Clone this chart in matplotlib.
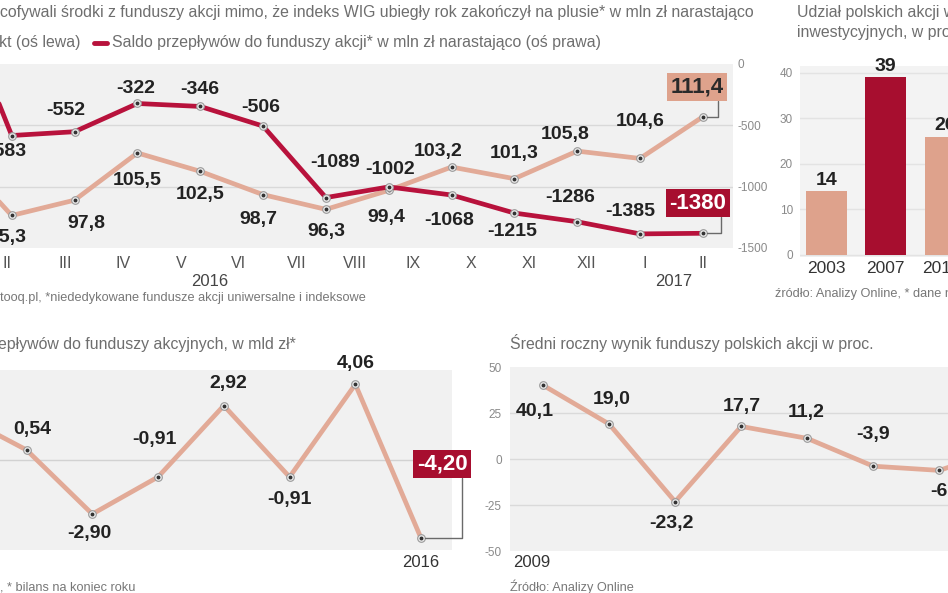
import numpy as np
import matplotlib
matplotlib.use("Agg")
import matplotlib.pyplot as plt
from matplotlib.lines import Line2D

plt.rcParams['font.family'] = ['Liberation Sans', 'DejaVu Sans']
plt.rcParams['axes.unicode_minus'] = False

# --- dane -------------------------------------------------------------
# wykres 1: I 2016 - II 2017 (pierwszy punkt poza kadrem)
months = ['I', 'II', 'III', 'IV', 'V', 'VI', 'VII', 'VIII', 'IX', 'X', 'XI', 'XII', 'I', 'II']
wig = [106.5, 95.3, 97.8, 105.5, 102.5, 98.7, 96.3, 99.4, 103.2, 101.3, 105.8, 104.6, 111.4]
saldo = [700, -583, -552, -322, -346, -506, -1089, -1002, -1068, -1215, -1286, -1385, -1380]

# wykres 2: udział polskich akcji
years_b = ['2003', '2007', '2017*']
share = [14, 39, 26]

# wykres 3: saldo roczne, mld zł (2009-2016)
saldo_rok = [2.4, 0.54, -2.90, -0.91, 2.92, -0.91, 4.06, -4.20]
# wykres 4: średni wynik funduszy, proc. (2009-2016)
wynik = [40.1, 19.0, -23.2, 17.7, 11.2, -3.9, -6.2, 5.9]

W, H = 948, 593
LIGHT = '#e2aa97'
RED = '#b8123c'
DARKRED = '#a70e2f'
SALMON = '#dea28c'
BG = '#f1f1f1'
GRAYTXT = '#6e6e6e'

fig = plt.figure(figsize=(W / 100, H / 100), dpi=100)


def rect(x0, y0, x1, y1):
    return [x0 / W, 1 - y1 / H, (x1 - x0) / W, (y1 - y0) / H]


def ftext(x, y, s, **kw):
    kw.setdefault('va', 'center')
    fig.text(x / W, 1 - y / H, s, **kw)


def pl(v):
    return f"{v:.1f}".replace('.', ',')


def markers(ax, x, y):
    ax.plot(x, y, 'o', ms=5.5, mfc='#ececec', mec='#9a9a9a', mew=0.8, zorder=5)
    ax.plot(x, y, 'o', ms=1.8, color='#333333', zorder=6)


def labels(ax, x, vals, offs, texts):
    for xi, v, o, t in zip(x, vals, offs, texts):
        if o is None:
            continue
        ax.annotate(t, (xi, v), xytext=(o[0], -o[1]), textcoords='offset pixels',
                    ha='center', va='center', fontsize=14, fontweight='bold',
                    color='#222222', zorder=7)


def box(ax, x, v, off, text, fc, tc):
    ax.annotate(text, (x, v), xytext=(off[0], -off[1]), textcoords='offset pixels',
                ha='center', va='center', fontsize=16, fontweight='bold', color=tc,
                bbox=dict(boxstyle='square,pad=0.15', fc=fc, ec='none'),
                arrowprops=dict(arrowstyle='-', color='#6a6a6a', lw=1, relpos=(0.9, 0),
                                connectionstyle='angle,angleA=90,angleB=0,rad=0',
                                shrinkA=0, shrinkB=3),
                zorder=8)


def clean(ax):
    for s in ax.spines.values():
        s.set_visible(False)
    ax.tick_params(length=0)


# --- wykres 1 ---------------------------------------------------------
x1 = np.arange(len(wig))
ax = fig.add_axes(rect(-80, 64, 733, 248))
ax.set_facecolor(BG)
clean(ax)
ax.set_xlim(-0.46, 12.48)
ax.set_ylim(90, 120)
ax.set_yticks([100, 110])
ax.set_yticklabels([])
ax.grid(axis='y', color='#d9d9d9', lw=1)
ax.set_axisbelow(True)
ticks = np.linspace(0, 12, len(months))
ax.set_xticks(ticks, months)
ax.tick_params(axis='x', labelsize=11.5, labelcolor='#555555', pad=6)
ax.plot(x1, wig, color=LIGHT, lw=3.4, solid_capstyle='round', zorder=3)
markers(ax, x1, wig)
offs_w = [None, (-4, 22), (12, 23), (0, 28), (0, 23), (-5, 25), (1, 22), (-2, 27),
          (-13, -16), (0, -25), (-12, -17), (0, -37), None]
labels(ax, x1, wig, offs_w, [pl(v) for v in wig])
box(ax, x1[-1], wig[-1], (-6, -30), pl(wig[-1]), SALMON, '#2a2a2a')

ax2 = ax.twinx()
ax2.patch.set_visible(False)
clean(ax2)
ax2.set_ylim(-1500, 0)
ax2.set_yticks([0, -500, -1000, -1500])
ax2.tick_params(axis='y', labelsize=8.5, labelcolor='#8a8a8a', pad=3)
ax2.plot(x1, saldo, color=RED, lw=3.4, solid_capstyle='round', zorder=3)
markers(ax2, x1, saldo)
offs_s = [None, (-5, 16), (-9, -21), (-2, -15), (0, -17), (-2, -19), (9, -35), (1, -17),
          (-2, 25), (-2, 18), (-7, -24), (-10, -22), None]
labels(ax2, x1, saldo, offs_s, [str(v) for v in saldo])
box(ax2, x1[-1], saldo[-1], (-5, -30), str(saldo[-1]), DARKRED, 'white')

ax.text((ticks[4] + ticks[5]) / 2, -0.18, '2016', transform=ax.get_xaxis_transform(),
        ha='center', va='center', fontsize=12, color='#444444')
ax.text((ticks[12] + ticks[13]) / 2, -0.18, '2017', transform=ax.get_xaxis_transform(),
        ha='center', va='center', fontsize=12, color='#444444')

ftext(0, 12, 'cofywali środki z funduszy akcji mimo, że indeks WIG ubiegły rok zakończył '
      'na plusie* w mln zł narastająco', fontsize=11.4, color=GRAYTXT)
ftext(-1, 43, 'kt (oś lewa)', fontsize=11.4, color=GRAYTXT)
fig.add_artist(Line2D([94 / W, 107 / W], [1 - 43 / H, 1 - 43 / H], color=RED, lw=3.5,
                      solid_capstyle='round'))
ftext(112, 43, 'Saldo przepływów do funduszy akcji* w mln zł narastająco (oś prawa)',
      fontsize=11.4, color=GRAYTXT)
ftext(0, 298, 'tooq.pl, *niededykowane fundusze akcji uniwersalne i indeksowe',
      fontsize=9.2, color='#777777')

# --- wykres 2 ---------------------------------------------------------
axb = fig.add_axes(rect(800, 66, 1010, 257))
axb.set_facecolor('#f3f3f3')
clean(axb)
axb.set_xlim(-0.44, 3.09)
axb.set_ylim(-0.44, 41.5)
axb.set_yticks([0, 10, 20, 30, 40])
axb.grid(axis='y', color='#e3e3e3', lw=1)
axb.set_axisbelow(True)
xb = np.arange(len(share))
axb.bar(xb, share, width=0.69, color=[SALMON, DARKRED, SALMON], zorder=3)
for xi, v in zip(xb, share):
    axb.annotate(str(v), (xi, v), xytext=(0, 11), textcoords='offset pixels', ha='center',
                 va='center', fontsize=14, fontweight='bold', color='#222222')
axb.set_xticks(xb, years_b)
axb.tick_params(axis='x', labelsize=12.5, labelcolor='#333333', pad=3)
axb.tick_params(axis='y', labelsize=8.5, labelcolor='#8a8a8a', pad=5)
ftext(797, 12, 'Udział polskich akcji w portfelach', fontsize=11.4, color=GRAYTXT)
ftext(797, 33, 'inwestycyjnych, w proc.', fontsize=11.4, color=GRAYTXT)
ftext(775, 294, 'źródło: Analizy Online, * dane na koniec', fontsize=9.2, color='#777777')

# --- wykres 3 ---------------------------------------------------------
x3 = np.arange(len(saldo_rok))
ax3 = fig.add_axes(rect(-80, 370, 452, 550))
ax3.set_facecolor(BG)
clean(ax3)
ax3.set_xlim(-0.62, 7.47)
ax3.set_ylim(-4.83, 4.83)
ax3.set_xticks([])
ax3.set_yticks([0])
ax3.set_yticklabels([])
ax3.grid(axis='y', color='#d2d2d2', lw=1)
ax3.set_axisbelow(True)
ax3.plot(x3, saldo_rok, color=LIGHT, lw=3.4, solid_capstyle='round', zorder=3)
markers(ax3, x3, saldo_rok)
offs_3 = [None, (6, -20), (-3, 19), (-4, -37), (4, -22), (0, 23), (0, -21), None]
labels(ax3, x3, saldo_rok, offs_3, [f"{v:.2f}".replace('.', ',') for v in saldo_rok])
box(ax3, x3[-1], saldo_rok[-1], (21, -74), f"{saldo_rok[-1]:.2f}".replace('.', ','),
    DARKRED, 'white')
ax3.text(x3[-1], -0.07, '2016', transform=ax3.get_xaxis_transform(), ha='center',
         va='center', fontsize=12, color='#333333')
ftext(-2, 345, 'epływów do funduszy akcyjnych, w mld zł*', fontsize=11.4, color=GRAYTXT)
ftext(0, 587, ', * bilans na koniec roku', fontsize=9.2, color='#777777')

# --- wykres 4 ---------------------------------------------------------
x4 = np.arange(len(wynik))
ax4 = fig.add_axes(rect(510, 367, 1010, 551))
ax4.set_facecolor(BG)
clean(ax4)
ax4.set_xlim(-0.5, 7.07)
ax4.set_ylim(-50, 50)
ax4.set_xticks([])
ax4.set_yticks([-50, -25, 0, 25, 50])
ax4.tick_params(axis='y', labelsize=8.5, labelcolor='#8a8a8a', pad=6)
for v in [-25, 0, 25]:
    ax4.axhline(v, color='#dadada', lw=1, zorder=1)
ax4.plot(x4, wynik, color=LIGHT, lw=3.4, solid_capstyle='round', zorder=3)
markers(ax4, x4, wynik)
offs_4 = [(-8, 26), (3, -25), (-4, 22), (1, -20), (-1, -26), (0, -32), (8, 21), None]
labels(ax4, x4, wynik, offs_4, [pl(v) for v in wynik])
ax4.text(-0.45, -0.065, '2009', transform=ax4.get_xaxis_transform(), ha='left',
         va='center', fontsize=12, color='#333333')
ftext(510, 343, 'Średni roczny wynik funduszy polskich akcji w proc.', fontsize=11.4,
      color=GRAYTXT)
ftext(510, 587, 'Źródło: Analizy Online', fontsize=9.2, color='#777777')

fig.savefig('out.png', dpi=100)
